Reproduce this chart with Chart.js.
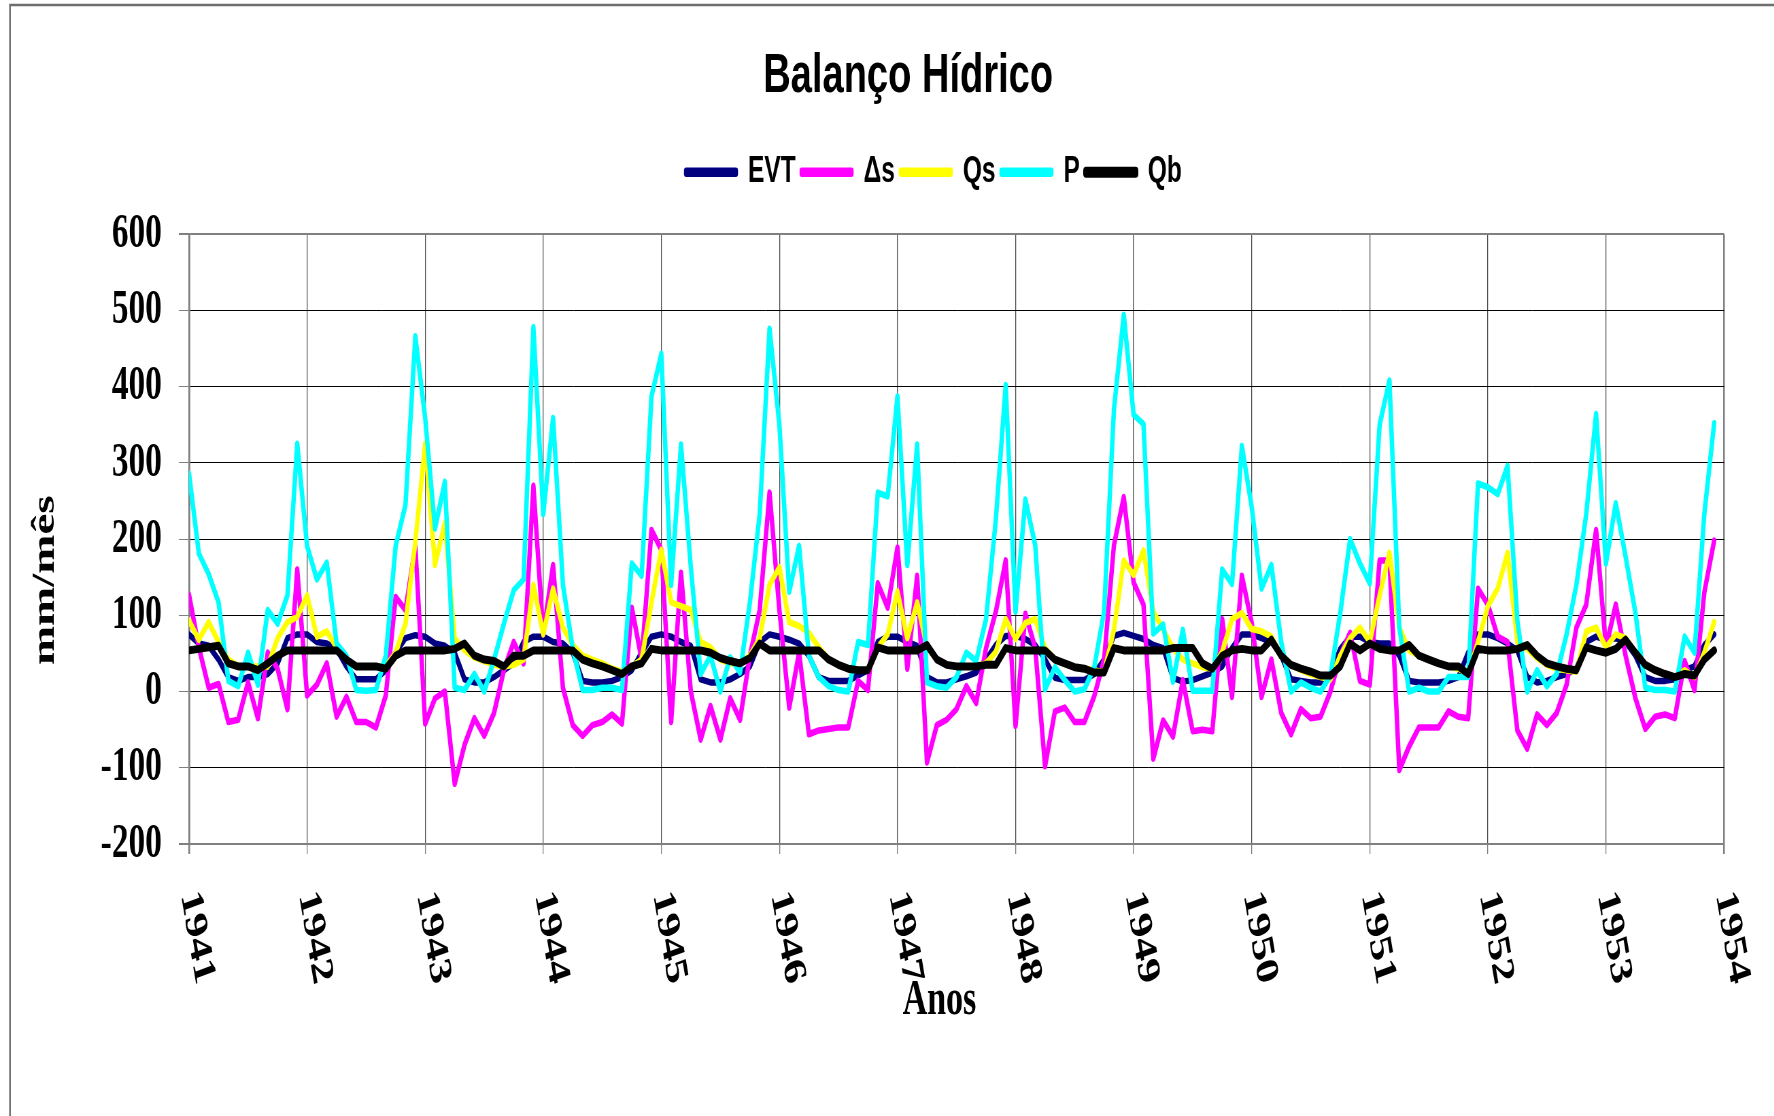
<!DOCTYPE html>
<html lang="pt">
<head>
  <meta charset="UTF-8" />
  <title>Balanço Hídrico</title>
  <script src="https://cdn.jsdelivr.net/npm/chart.js@4"></script>
  <style>
    html, body { margin: 0; padding: 0; background: #fff; overflow: hidden; }
    /* o grafico original vem achatado na horizontal */
    #grafico { display: block; transform: scaleX(0.68); transform-origin: 0 0; }
  </style>
</head>
<body>
  <canvas id="grafico" width="2691" height="1116"></canvas>

  <script>
    const anos = ["1941", "1942", "1943", "1944", "1945", "1946", "1947",
                  "1948", "1949", "1950", "1951", "1952", "1953", "1954"];

    // valores mensais (mm/mes), jan/1941 a dez/1953
    const evt = [75,63,60,42,19,14,19,19,23,37,70,75,
                 75,65,63,56,33,16,16,16,28,51,70,74,
                 72,63,60,51,16,12,12,19,28,37,65,72,
                 72,65,63,51,14,12,12,14,19,28,51,72,
                 75,72,65,60,16,12,12,16,23,33,65,75,
                 72,68,63,47,19,14,14,14,21,28,65,72,
                 72,65,60,19,12,12,16,20,25,42,61,73,
                 73,69,61,42,18,15,15,15,23,42,73,77,
                 73,69,61,57,18,13,15,20,25,33,57,75,
                 75,70,65,47,16,14,12,12,23,56,72,72,
                 65,63,63,47,14,12,12,12,14,19,51,75,
                 75,70,63,54,19,12,14,19,23,30,65,72,
                 68,70,65,47,19,14,14,16,28,33,61,75];

    const ds = [127,58,5,10,-40,-37,12,-35,51,30,-23,160,
                -5,9,37,-33,-7,-40,-40,-47,-5,124,107,191,
                -42,-9,0,-121,-70,-35,-58,-28,28,65,37,270,
                75,166,5,-44,-58,-44,-40,-30,-42,110,42,212,
                186,-40,156,0,-63,-19,-63,-9,-37,47,107,261,
                107,-21,51,-56,-51,-49,-47,-47,14,2,142,110,
                189,30,152,-93,-44,-37,-23,7,-15,57,105,172,
                -45,102,57,-98,-26,-21,-40,-40,-6,42,192,255,
                143,114,-88,-38,-59,15,-52,-50,-52,95,-7,152,
                90,-7,42,-28,-56,-23,-35,-33,0,47,77,14,
                9,172,172,-103,-72,-47,-47,-47,-26,-33,-35,135,
                114,72,65,-51,-75,-30,-44,-28,9,84,114,212,
                58,114,47,-9,-49,-33,-30,-35,40,2,130,198];

    const qs = [93,68,91,65,42,33,33,33,33,70,91,98,
                126,72,79,58,42,33,33,33,33,51,89,196,
                325,166,221,70,54,45,40,35,33,35,42,140,
                75,135,84,61,47,42,37,30,26,33,42,117,
                186,117,112,107,65,58,42,37,37,47,70,140,
                163,91,86,77,58,42,35,30,28,28,58,75,
                131,70,117,58,42,35,33,33,33,37,52,95,
                69,90,95,57,42,37,32,30,28,25,81,172,
                153,185,105,81,57,42,37,32,30,52,95,103,
                82,79,72,47,35,28,23,19,16,47,70,84,
                65,126,182,84,54,47,42,37,33,30,23,65,
                112,135,182,65,56,44,35,30,28,26,79,84,
                58,75,70,51,35,28,23,19,28,19,51,91];

    const p = [286,181,154,117,14,7,51,9,107,89,126,325,
               191,147,169,63,47,2,1,2,47,191,245,466,
               359,214,275,5,2,23,0,42,89,133,147,478,
               233,359,140,56,2,2,5,5,2,168,152,387,
               443,140,324,163,23,47,0,45,25,117,233,476,
               350,131,191,47,19,7,2,0,65,61,261,256,
               387,166,324,12,7,5,19,51,40,95,226,402,
               105,252,192,3,32,15,0,3,32,105,370,494,
               363,351,76,88,13,81,1,1,1,160,141,322,
               242,135,166,65,0,12,5,0,21,103,200,168,
               142,350,408,84,0,5,0,0,19,19,19,273,
               268,259,296,93,0,28,7,23,75,140,233,364,
               168,247,177,103,5,2,2,0,72,51,233,352];

    const qb = [54,56,58,60,37,33,33,28,37,47,54,54,
                54,54,54,54,42,33,33,33,30,47,54,54,
                54,54,54,56,63,47,42,40,33,47,47,54,
                54,54,54,54,42,37,33,28,23,33,37,56,
                54,54,54,54,54,51,44,40,37,44,63,54,
                54,54,54,54,54,42,35,30,28,28,58,54,
                54,54,54,61,42,35,33,33,33,35,35,57,
                54,54,54,54,42,37,32,30,25,25,57,54,
                54,54,54,54,57,57,57,37,30,47,54,56,
                54,54,68,47,35,30,26,21,21,33,63,54,
                63,56,54,54,61,47,42,37,33,33,23,56,
                54,54,54,56,61,47,37,33,30,28,58,54,
                51,56,68,51,35,28,23,19,23,21,42,54];

    const meses = evt.map((_, i) => i);

    const ESCALA = 0.68;
    const LARGURA = 2691;
    const ESQ = 189 / ESCALA;
    const DIR = 1724 / ESCALA;
    const SANS = '"Liberation Sans", Arial, sans-serif';
    const SERIF = '"Liberation Serif", "Times New Roman", serif';

    function serie(nome, dados, cor, largura, ordem) {
      return {
        label: nome,
        data: dados,
        borderColor: cor,
        backgroundColor: cor,
        borderWidth: largura,
        borderJoinStyle: "round",
        borderCapStyle: "round",
        pointRadius: 0,
        tension: 0,
        fill: false,
        order: ordem
      };
    }

    const borda = (c, v1, v2) => c.tick && (c.tick.value === v1 || c.tick.value === v2);

    // fundo branco + moldura cinza da figura
    const moldura = {
      id: "moldura",
      beforeDraw(chart) {
        const c = chart.ctx;
        c.save();
        c.fillStyle = "#fff";
        c.fillRect(0, 0, chart.width, chart.height);
        c.strokeStyle = "#6e6e6e";
        c.lineWidth = 2.5;
        c.beginPath();
        c.moveTo(10 / ESCALA, chart.height);
        c.lineTo(10 / ESCALA, 5);
        c.lineTo(chart.width, 5);
        c.stroke();
        c.restore();
      }
    };

    // espaco extra abaixo da legenda e pequeno deslocamento horizontal
    const ajusteTopo = {
      id: "ajusteTopo",
      beforeUpdate(chart) {
        const lg = chart.legend;
        if (lg && !lg._ajustada) {
          const fit = lg.fit;
          lg.fit = function () { fit.call(this); this.height += 34; };
          lg._ajustada = true;
        }
      },
      afterLayout(chart) {
        chart.legend.left += 28;
        chart.legend.right += 28;
        chart.titleBlock.left -= 10;
        chart.titleBlock.right -= 10;
      }
    };

    // rotulos dos anos girados no sentido horario
    const rotulosAnos = {
      id: "rotulosAnos",
      afterDraw(chart) {
        const x = chart.scales.x;
        const c = chart.ctx;
        c.save();
        c.font = "bold 47px " + SERIF;
        c.fillStyle = "#000";
        c.textAlign = "left";
        c.textBaseline = "middle";
        anos.forEach((ano, k) => {
          c.save();
          c.translate(x.getPixelForValue(k * 12), chart.chartArea.bottom + 48);
          c.rotate(76 * Math.PI / 180);
          c.fillText(ano, 0, 0);
          c.restore();
        });
        c.restore();
      }
    };

    new Chart(document.getElementById("grafico"), {
      type: "line",
      data: {
        labels: meses,
        datasets: [
          serie("EVT", evt, "#000080", 6.5, 5),
          serie("\u0394s", ds, "#ff00ff", 6.5, 4),
          serie("Qs", qs, "#ffff00", 6.5, 3),
          serie("P", p, "#00ffff", 6.5, 2),
          serie("Qb", qb, "#000000", 8, 1)
        ]
      },
      options: {
        responsive: false,
        animation: false,
        layout: { padding: 0 },
        plugins: {
          title: {
            display: true,
            text: "Balanço Hídrico",
            color: "#000",
            font: { family: SANS, size: 56, weight: "bold" },
            padding: { top: 43, bottom: 35 }
          },
          legend: {
            position: "top",
            labels: {
              color: "#000",
              font: { family: SANS, size: 36, weight: "bold" },
              boxWidth: 73,
              boxHeight: 3,
              padding: 9,
              sort: (a, b) => a.datasetIndex - b.datasetIndex
            }
          },
          tooltip: { enabled: false }
        },
        scales: {
          x: {
            type: "linear",
            min: 0,
            max: 156,
            ticks: { stepSize: 12, display: false },
            grid: {
              color: c => borda(c, 0, 156) ? "#808080" : "#505050",
              lineWidth: c => borda(c, 0, 156) ? 2.5 : 1.3,
              tickLength: 10,
              tickColor: "#808080"
            },
            border: { color: "#808080", width: 2 },
            title: {
              display: true,
              text: "Anos    ",
              color: "#000",
              font: { family: SERIF, size: 50, weight: "bold" },
              padding: { top: 0, bottom: 85 }
            },
            afterFit(s) { s.height = 1116 - 844; }
          },
          y: {
            min: -200,
            max: 600,
            ticks: {
              stepSize: 100,
              padding: 25,
              color: "#000",
              font: { family: SERIF, size: 49, weight: "bold" }
            },
            grid: {
              color: c => borda(c, 600, -200) ? "#808080" : "#000",
              lineWidth: c => borda(c, 600, -200) ? 2 : 1,
              tickLength: 15,
              tickColor: "#808080"
            },
            border: { color: "#808080", width: 2.5 },
            title: {
              display: true,
              text: "mm/mês       ",
              color: "#000",
              font: { family: SERIF, size: 47, weight: "bold" },
              padding: { top: 39, bottom: 0 }
            },
            afterFit(s) { s.width = ESQ; }
          },
          y2: {
            type: "linear",
            position: "right",
            ticks: { display: false },
            grid: { display: false },
            border: { display: false },
            afterFit(s) { s.width = LARGURA - DIR; }
          }
        }
      },
      plugins: [moldura, ajusteTopo, rotulosAnos]
    });
  </script>
</body>
</html>
